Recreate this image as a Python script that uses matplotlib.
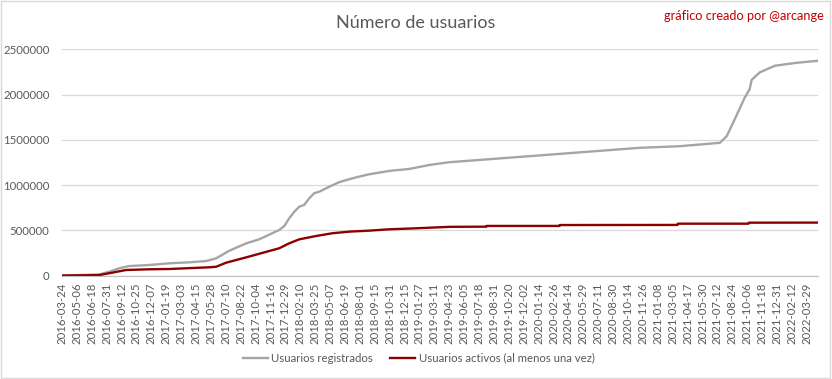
import matplotlib.pyplot as plt
from matplotlib.patches import Rectangle

# Category axis: one category per data row, a label every 43 rows
N_ROWS = 2183
TICK_STEP = 43
tick_labels = [
    "2016-03-24", "2016-05-06", "2016-06-18", "2016-07-31", "2016-09-12",
    "2016-10-25", "2016-12-07", "2017-01-19", "2017-03-03", "2017-04-15",
    "2017-05-28", "2017-07-10", "2017-08-22", "2017-10-04", "2017-11-16",
    "2017-12-29", "2018-02-10", "2018-03-25", "2018-05-07", "2018-06-19",
    "2018-08-01", "2018-09-15", "2018-10-31", "2018-12-15", "2019-01-27",
    "2019-03-11", "2019-04-23", "2019-06-05", "2019-07-18", "2019-08-31",
    "2019-10-20", "2019-12-02", "2020-01-14", "2020-02-26", "2020-04-14",
    "2020-05-29", "2020-07-11", "2020-08-30", "2020-10-14", "2020-11-26",
    "2021-01-08", "2021-03-05", "2021-04-17", "2021-05-30", "2021-07-12",
    "2021-08-24", "2021-10-06", "2021-11-18", "2021-12-31", "2022-02-12",
    "2022-03-29",
]

# Usuarios registrados (row index, value)
reg_idx = [0, 107, 136, 165, 194, 251, 309, 367, 416, 445, 483, 532, 569,
           590, 627, 642, 656, 671, 685, 699, 714, 728, 743, 772, 800, 829,
           858, 887, 945, 1003, 1061, 1118, 1378, 1667, 1783, 1899, 1919,
           1942, 1971, 1985, 1991, 2014, 2058, 2115, 2182]
reg_val = [0, 11000, 42000, 80000, 105000, 116000, 135000, 146000, 160000,
           190000, 274000, 356000, 400000, 437000, 503000, 548000, 633000,
           706000, 761000, 780000, 854000, 909000, 927000, 982000, 1031000,
           1064000, 1093000, 1119000, 1156000, 1178000, 1222000, 1252000,
           1327000, 1411000, 1429000, 1466000, 1540000, 1726000, 1966000,
           2059000, 2162000, 2244000, 2318000, 2348000, 2373000]

# Usuarios activos (al menos una vez)
act_idx = [0, 107, 144, 185, 251, 309, 358, 425, 445, 474, 532, 569, 627,
           656, 685, 734, 780, 829, 887, 945, 1023, 1118, 1225, 1226, 1436,
           1437, 1777, 1778, 1982, 1983, 2182]
act_val = [0, 5000, 31000, 61000, 69000, 72000, 80000, 91000, 97000, 142000,
           201000, 240000, 301000, 356000, 400000, 437000, 467000, 485000,
           496000, 511000, 522000, 538000, 540000, 548000, 548000, 558000,
           559000, 573000, 573000, 584000, 585000]

TEXT = "#595959"
FONT = ["Lato", "DejaVu Sans"]
plt.rcParams["font.family"] = FONT

fig = plt.figure(figsize=(8.32, 3.79), dpi=100)
fig.patches.append(Rectangle((0.001, 0.002), 0.997, 0.995, transform=fig.transFigure,
                             fill=False, edgecolor="#d9d9d9", linewidth=1))
ax = fig.add_axes([0.0745, 0.273, 0.9085, 0.597])

ax.plot(reg_idx, reg_val, color="#a5a5a5", linewidth=1.7, label="Usuarios registrados")
ax.plot(act_idx, act_val, color="#8b0000", linewidth=1.7,
        label="Usuarios activos (al menos una vez)")

ax.set_xlim(0, N_ROWS - 1)
ax.set_ylim(0, 2500000)
ax.set_yticks(range(0, 2500001, 500000))
ax.set_yticklabels([str(v) for v in range(0, 2500001, 500000)])
ax.set_xticks(range(0, TICK_STEP * len(tick_labels), TICK_STEP))
ax.set_xticklabels(tick_labels, rotation=90)

ax.grid(axis="y", color="#d9d9d9", linewidth=0.9)
ax.set_axisbelow(True)
for side in ("top", "right", "left"):
    ax.spines[side].set_visible(False)
ax.spines["bottom"].set_color("#bfbfbf")
ax.tick_params(axis="both", length=0, colors=TEXT, labelsize=8.2)
ax.tick_params(axis="y", pad=9)
ax.tick_params(axis="x", pad=5)

fig.text(0.5, 0.94, "Número de usuarios", ha="center", va="center",
         fontsize=13, color=TEXT)
fig.text(0.99, 0.958, "gráfico creado por @arcange", ha="right", va="center",
         fontsize=9.2, color="#c00000")

ax.legend(loc="center", bbox_to_anchor=(0.472, -0.365), ncol=2, frameon=False,
          fontsize=8.2, labelcolor=TEXT, handlelength=2.2, handletextpad=0.3,
          columnspacing=1.5)

fig.savefig("out.png", dpi=100)
